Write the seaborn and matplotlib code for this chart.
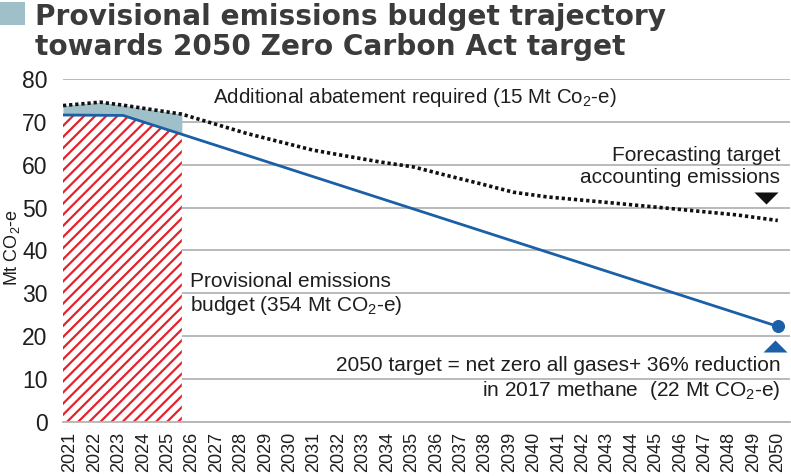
import matplotlib
matplotlib.use("Agg")
import matplotlib.pyplot as plt
import seaborn as sns
from matplotlib.patches import Rectangle

# ---------------- data ----------------
years = list(range(2021, 2051))
tick_labels = [str(y) for y in years]
y_ticks = [0, 10, 20, 30, 40, 50, 60, 70, 80]

# blue provisional budget / target trajectory (read break points)
budget_x = [2020.71, 2023.17, 2025.58, 2050.0]
budget_values = [71.6, 71.5, 67.1, 22.3]

# dotted forecast of target accounting emissions (read points)
forecast_x = [2020.71, 2022.23, 2023.17, 2025.58, 2028.24, 2030.96, 2033.70, 2035.06,
              2036.44, 2037.80, 2039.16, 2040.54, 2042.84, 2045.59, 2048.32, 2050.0]
forecast_values = [73.8, 74.6, 73.9, 71.8, 67.3, 63.4, 60.65, 59.5,
                   57.5, 55.6, 53.6, 52.5, 51.3, 49.8, 48.3, 47.0]

# provisional budget period (2021-2025)
period_x = [2020.71, 2022.23, 2023.17, 2025.58]
period_budget = [71.6, 71.55, 71.5, 67.1]
period_forecast = [73.8, 74.6, 73.9, 71.8]

target_2050 = 22.3

# ---------------- style ----------------
sns.set_theme(style="white")
plt.rcParams['font.family'] = ['Liberation Sans', 'DejaVu Sans']
plt.rcParams['mathtext.fontset'] = 'custom'
plt.rcParams['mathtext.rm'] = 'Liberation Sans'
plt.rcParams['mathtext.it'] = 'Liberation Sans'
plt.rcParams['hatch.linewidth'] = 1.6
plt.rcParams['hatch.color'] = '#e3232c'

BLUE = '#1b5fa6'
RED = '#e3232c'
GREYFILL = '#9fc0c8'
GRID = '#b4b4b4'
TXT = '#1e1e1e'

fig = plt.figure(figsize=(7.91, 4.76), dpi=100)
ax = fig.add_axes([63/791, 1-422/476, 727/791, (422-79)/476])

ax.set_xlim(2020.71, 2050.5)
ax.set_ylim(0, 80)
ax.set_yticks(y_ticks)
ax.yaxis.grid(True, color=GRID, lw=1.3)
ax.set_axisbelow(True)
for s in ['top', 'right', 'left']:
    ax.spines[s].set_visible(False)
ax.spines['bottom'].set_color(GRID)
ax.spines['bottom'].set_linewidth(1.3)

# hatched provisional budget area
ax.fill_between(period_x, 0, period_budget, facecolor='white',
                edgecolor=RED, hatch='///', lw=0, zorder=2)
# additional abatement area
ax.fill_between(period_x, period_budget, period_forecast,
                facecolor=GREYFILL, lw=0, zorder=2)

# lines
sns.lineplot(x=forecast_x, y=forecast_values, ax=ax, color='#111111', lw=2.6, zorder=4)
ax.lines[-1].set_linestyle((0, (0.9, 0.8)))
sns.lineplot(x=budget_x, y=budget_values, ax=ax, color=BLUE, lw=2.0, zorder=5)
sns.scatterplot(x=[2050.0], y=[target_2050], ax=ax, color=BLUE, s=75, edgecolor=BLUE,
                zorder=6, clip_on=False)

up_tri = [(-1, -0.5), (1, -0.5), (0, 0.5)]
down_tri = [(-1, 0.5), (1, 0.5), (0, -0.5)]
ax.scatter([2049.9], [17.8], marker=up_tri, s=300, color=BLUE, zorder=6, clip_on=False, lw=0)
ax.scatter([2049.5], [52.3], marker=down_tri, s=300, color='#111111', zorder=6, clip_on=False, lw=0)

# ticks
ax.set_xticks(years)
ax.set_xticklabels(tick_labels, rotation=90, fontsize=13, color=TXT)
ax.tick_params(axis='x', length=0, pad=7)
ax.tick_params(axis='y', length=0, pad=11, labelsize=16.5, labelcolor=TXT)
ax.set_ylabel('Mt CO$_2$-e', fontsize=13, color=TXT)
ax.yaxis.set_label_coords(-0.057, 0.51)
ax.set_xlabel('')

# annotations
ax.text(2026.86, 75.6, 'Additional abatement required (15 Mt Co$_2$-e)', fontsize=14.8,
        color=TXT, ha='left', va='center')
ax.text(2050.1, 59.6, 'Forecasting target\naccounting emissions', fontsize=15,
        color=TXT, ha='right', va='center', linespacing=1.15)
ax.text(2025.92, 29.8, 'Provisional emissions\nbudget (354 Mt CO$_2$-e)', fontsize=15,
        color=TXT, ha='left', va='center', linespacing=1.15)
ax.text(2050.1, 10.0, '2050 target = net zero all gases+ 36% reduction\nin 2017 methane  (22 Mt CO$_2$-e)',
        fontsize=15, color=TXT, ha='right', va='center', linespacing=1.2, multialignment='right')

# title
fig.patches.append(Rectangle((0, 1-25/476), 25/791, 23/476, transform=fig.transFigure,
                             facecolor=GREYFILL, edgecolor='none'))
fig.text(35/791, 1-25/476, 'Provisional emissions budget trajectory',
         fontsize=20.2, fontweight='bold', family=['DejaVu Sans'], color='#3b3b3b',
         ha='left', va='baseline')
fig.text(35/791, 1-55/476, 'towards 2050 Zero Carbon Act target',
         fontsize=20.2, fontweight='bold', family=['DejaVu Sans'], color='#3b3b3b',
         ha='left', va='baseline')

fig.savefig('out.png', dpi=100)
